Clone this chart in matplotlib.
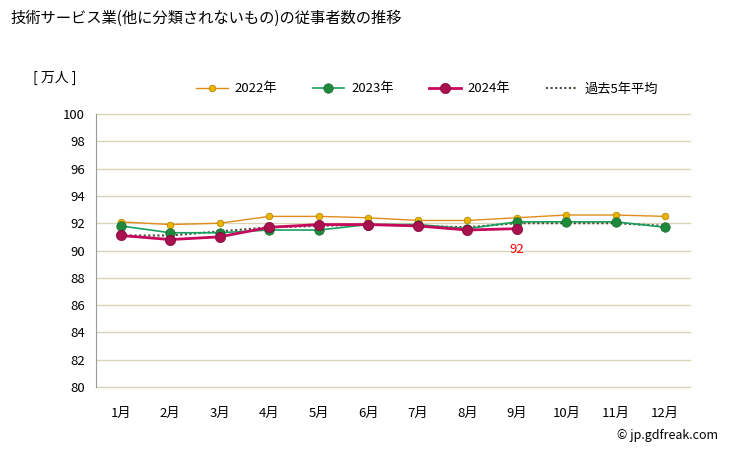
import matplotlib
matplotlib.use("Agg")
import matplotlib.pyplot as plt
from matplotlib.lines import Line2D

plt.rcParams['font.family'] = ['Noto Sans CJK JP', 'DejaVu Sans']

months = ['1月', '2月', '3月', '4月', '5月', '6月', '7月', '8月', '9月', '10月', '11月', '12月']
y2022 = [92.1, 91.9, 92.0, 92.5, 92.5, 92.4, 92.2, 92.2, 92.4, 92.6, 92.6, 92.5]
y2023 = [91.8, 91.3, 91.3, 91.5, 91.5, 91.9, 91.9, 91.6, 92.1, 92.1, 92.1, 91.7]
y2024 = [91.1, 90.8, 91.0, 91.7, 91.9, 91.9, 91.8, 91.5, 91.6]
avg5 = [91.1, 91.1, 91.4, 91.7, 91.8, 91.9, 91.8, 91.7, 92.0, 92.0, 92.0, 91.8]
yticks = [80, 82, 84, 86, 88, 90, 92, 94, 96, 98, 100]

fig = plt.figure(figsize=(7.29, 4.51), dpi=100)
ax = fig.add_axes([96/729, 1-387/451, (690-96)/729, (387-114)/451])

x = list(range(len(months)))
s22 = dict(color='#e08c1a', lw=1.0, marker='o', ms=4.8, mfc='#e8b400', mec='#b08000', mew=0.5)
s23 = dict(color='#18a060', lw=1.2, marker='o', ms=6.8, mfc='#1f8a3c', mec='#146628', mew=0.5)
s24 = dict(color='#c8085c', lw=2.0, marker='o', ms=7.4, mfc='#a8104e', mec='#7a0838', mew=0.5)
savg = dict(color='#4a4a3a', lw=1.5, linestyle=(0, (1, 1.2)))

ax.plot(x, avg5, zorder=2, **savg)
ax.plot(x, y2022, zorder=3, **s22)
ax.plot(x, y2023, zorder=4, **s23)
ax.plot(x[:len(y2024)], y2024, zorder=5, **s24)
ax.text(x[len(y2024)-1], y2024[-1]-1.05, f'{round(y2024[-1])}', color='#ff0000',
        ha='center', va='top', fontsize=9.5)

ax.set_xlim(-0.5, 11.5)
ax.set_ylim(80, 100)
ax.set_yticks(yticks)
ax.set_xticks(x)
ax.set_xticklabels(months, fontsize=9.5)
ax.tick_params(axis='y', labelsize=9.5, length=0, pad=8)
ax.tick_params(axis='x', length=0, pad=14)
ax.grid(axis='y', color='#d9d4b6', lw=1.0)
for gl in ax.get_ygridlines():
    gl.set_clip_on(False)
ax.set_axisbelow(True)
for s in ['top', 'right', 'bottom']:
    ax.spines[s].set_visible(False)
ax.spines['left'].set_color('#999999')

fig.text(10/729, 1-18/451, '技術サービス業(他に分類されないもの)の従事者数の推移',
         fontsize=11, va='center', ha='left')
fig.text(33/729, 1-78/451, '[ 万人 ]', fontsize=10, va='center', ha='left')
fig.text(718/729, 1-436/451, '© jp.gdfreak.com', fontsize=9, va='center', ha='right')

handles = [Line2D([], [], **s22), Line2D([], [], **s23), Line2D([], [], **s24), Line2D([], [], **savg)]
labels = ['2022年', '2023年', '2024年', '過去5年平均']
fig.legend(handles, labels, loc='center', bbox_to_anchor=(427/729, 1-89/451), ncol=4,
           frameon=False, fontsize=9.5, handlelength=2.4, columnspacing=2.65, handletextpad=0.55)

fig.savefig('out.png', dpi=100)
